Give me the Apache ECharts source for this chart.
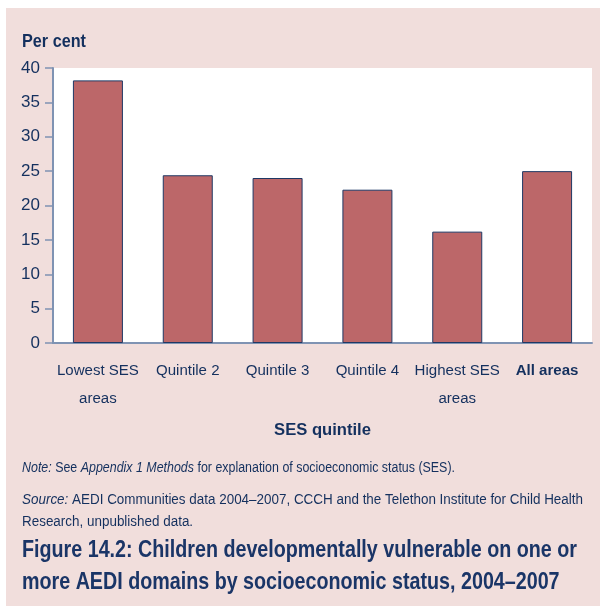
<!DOCTYPE html>
<html>
<head>
<meta charset="utf-8">
<script src="https://cdn.jsdelivr.net/npm/echarts@6/dist/echarts.min.js"></script>
<style>
  html, body { margin: 0; padding: 0; background: #fff; }
  #chart { width: 600px; height: 606px; }
</style>
</head>
<body>
<div id="chart"></div>
<script>
var categories = ["Lowest SES\nareas", "Quintile 2", "Quintile 3", "Quintile 4", "Highest SES\nareas", "All areas"];
var values = [38.2, 24.4, 24.0, 22.3, 16.2, 25.0];
var yTicks = { min: 0, max: 40, interval: 5 };

var FONT = '"Liberation Sans Narrow", "Liberation Sans", sans-serif';
var NAVY = "#14305e";
var AXIS = "#7f93b3";

var ctx = document.createElement("canvas").getContext("2d");
function textWidth(text, font) {
  ctx.font = font;
  return ctx.measureText(text).width;
}
// squeeze a line horizontally so it spans the same width as in the reference
function squeeze(text, font, target) {
  return Math.min(1, target / textWidth(text, font));
}

var titleFont = "bold 24px " + FONT;
var titleLines = [
  "Figure 14.2: Children developmentally vulnerable on one or",
  "more AEDI domains by socioeconomic status, 2004\u20132007"
];
var titleScale = squeeze(titleLines[0], titleFont, 555);

var noteFont = "14px " + FONT;
var noteText = "Note: See Appendix 1 Methods for explanation of socioeconomic status (SES).";
var noteScale = squeeze(noteText, noteFont, 433);
var sourceText = "Source: AEDI Communities data 2004\u20132007, CCCH and the Telethon Institute for Child Health";
var sourceScale = squeeze(sourceText, noteFont, 561);

var headFont = "bold 19px " + FONT;
var headScale = squeeze("Per cent", headFont, 64);

// axis labels can't be squeezed, so pick sizes close to the reference width
var catSize = Math.min(16, 16 * 82 / textWidth("Lowest SES", "16px " + FONT));
var ySize = 17;
var nameSize = Math.min(18, 18 * 97 / textWidth("SES quintile", "bold 18px " + FONT));

var chart = echarts.init(document.getElementById("chart"));

var option = {
  backgroundColor: "#fff",
  animation: false,
  graphic: [
    {
      type: "rect",
      shape: { x: 6, y: 8, width: 594, height: 598 },
      style: { fill: "#f1dedc" },
      z: -10
    },
    {
      type: "text",
      x: 22,
      y: 32,
      scaleX: headScale,
      style: { text: "Per cent", font: headFont, fill: NAVY, verticalAlign: "top" }
    },
    {
      type: "text",
      x: 22,
      y: 461,
      scaleX: noteScale,
      style: {
        text: "{i|Note:} See {i|Appendix 1 Methods} for explanation of socioeconomic status (SES).",
        font: noteFont,
        fill: NAVY,
        verticalAlign: "top",
        rich: { i: { font: "italic 14px " + FONT, fill: NAVY } }
      }
    },
    {
      type: "text",
      x: 22,
      y: 489,
      scaleX: sourceScale,
      style: {
        text: "{i|Source:} AEDI Communities data 2004\u20132007, CCCH and the Telethon Institute for Child Health\nResearch, unpublished data.",
        font: noteFont,
        fill: NAVY,
        lineHeight: 22,
        verticalAlign: "top",
        rich: { i: { font: "italic 14px " + FONT, fill: NAVY } }
      }
    },
    {
      type: "text",
      x: 22,
      y: 534,
      scaleX: titleScale,
      style: {
        text: titleLines.join("\n"),
        font: titleFont,
        fill: "#1a3567",
        lineHeight: 32,
        verticalAlign: "top"
      }
    }
  ],
  grid: {
    left: 53,
    right: 8,
    top: 68,
    bottom: 263,
    show: true,
    backgroundColor: "#fff",
    borderWidth: 0
  },
  xAxis: {
    type: "category",
    data: categories,
    name: "SES quintile",
    nameLocation: "middle",
    nameGap: 79,
    nameTextStyle: { fontFamily: FONT, fontWeight: "bold", fontSize: nameSize, color: NAVY },
    axisLine: { show: true, lineStyle: { color: AXIS, width: 2 } },
    axisTick: { show: false },
    axisLabel: {
      interval: 0,
      margin: 14,
      fontFamily: FONT,
      fontSize: catSize,
      lineHeight: 28,
      color: NAVY,
      formatter: function (v) {
        return v === "All areas" ? "{b|" + v + "}" : v;
      },
      rich: { b: { fontFamily: FONT, fontSize: catSize, fontWeight: "bold", color: NAVY } }
    }
  },
  yAxis: {
    type: "value",
    min: yTicks.min,
    max: yTicks.max,
    interval: yTicks.interval,
    axisLine: { show: true, lineStyle: { color: AXIS, width: 2 } },
    axisTick: { show: true, length: 8, lineStyle: { color: AXIS, width: 1.5 } },
    splitLine: { show: false },
    axisLabel: { margin: 13, fontFamily: FONT, fontSize: ySize, color: NAVY }
  },
  series: [
    {
      type: "bar",
      data: values,
      barWidth: 50,
      itemStyle: { color: "#bc6769", borderColor: "#1f3864", borderWidth: 1 }
    }
  ]
};

chart.setOption(option);
</script>
</body>
</html>
